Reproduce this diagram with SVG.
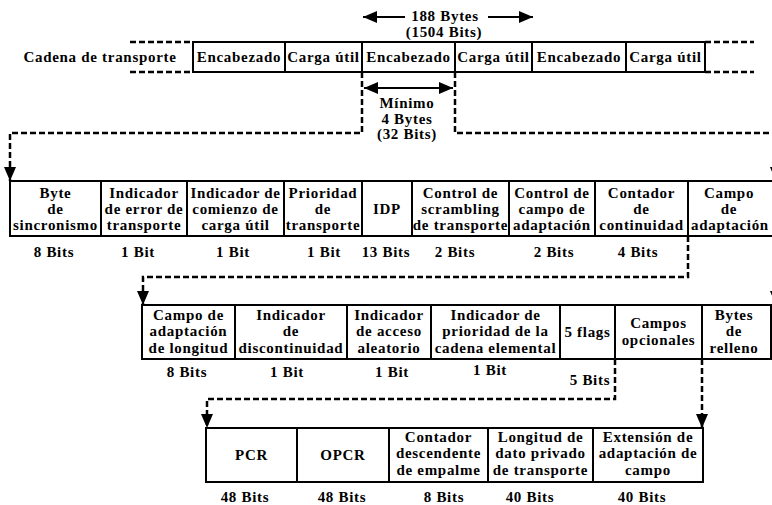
<svg xmlns="http://www.w3.org/2000/svg" width="772" height="505" viewBox="0 0 772 505">
  <style>
    .bg { fill: #ffffff; }
    .box { fill: #ffffff; stroke: #000000; stroke-width: 2; }
    .t { font-family: "Liberation Serif", "Times New Roman", serif; font-weight: bold; font-size: 15px; text-anchor: middle; letter-spacing: 0.7px; fill: #000000; }
    .dash { fill: none; stroke: #000000; stroke-width: 2.5; stroke-dasharray: 6 3; }
    .solid { fill: none; stroke: #000000; stroke-width: 2; }
  </style>
  <defs>
    <marker id="arrow" markerUnits="userSpaceOnUse" markerWidth="14" markerHeight="12" viewBox="0 0 14 12" refX="14" refY="6" orient="auto-start-reverse">
      <path d="M0,0 L14,6 L0,12 Z" fill="#000000"/>
    </marker>
  </defs>

  <rect class="bg" x="0" y="0" width="772" height="505"/>

  <!-- packet size annotation -->
  <g id="packet-size">
    <path class="solid" d="M405,17 H363" marker-end="url(#arrow)"/>
    <path class="solid" d="M488,17 H533" marker-end="url(#arrow)"/>
    <text class="t" x="445" y="21">188 Bytes</text>
    <text class="t" x="444" y="37">(1504 Bits)</text>
  </g>

  <!-- transport stream -->
  <g id="transport-stream">
    <text class="t" x="100" y="62">Cadena de transporte</text>
    <path class="dash" d="M130,42 H193 M130,72 H193 M705,42 H754 M705,72 H754"/>
    <rect class="box" x="193" y="42" width="92" height="30"/>
    <rect class="box" x="285" y="42" width="77" height="30"/>
    <rect class="box" x="362" y="42" width="93" height="30"/>
    <rect class="box" x="455" y="42" width="77" height="30"/>
    <rect class="box" x="532" y="42" width="94" height="30"/>
    <rect class="box" x="626" y="42" width="79" height="30"/>
    <text class="t" x="239" y="62">Encabezado</text>
    <text class="t" x="323.5" y="62">Carga útil</text>
    <text class="t" x="408.5" y="62">Encabezado</text>
    <text class="t" x="493.5" y="62">Carga útil</text>
    <text class="t" x="579" y="62">Encabezado</text>
    <text class="t" x="665.5" y="62">Carga útil</text>
  </g>

  <!-- minimum header size annotation -->
  <g id="header-size">
    <path class="solid" d="M364,88 H453" marker-start="url(#arrow)" marker-end="url(#arrow)"/>
    <text class="t" x="407" y="108">Mínimo</text>
    <text class="t" x="407" y="124">4 Bytes</text>
    <text class="t" x="407" y="139">(32 Bits)</text>
  </g>

  <!-- header fields -->
  <g id="header">
    <rect class="box" x="10" y="181" width="91" height="55"/>
    <rect class="box" x="101" y="181" width="86" height="55"/>
    <rect class="box" x="187" y="181" width="97" height="55"/>
    <rect class="box" x="284" y="181" width="78" height="55"/>
    <rect class="box" x="362" y="181" width="50" height="55"/>
    <rect class="box" x="412" y="181" width="97" height="55"/>
    <rect class="box" x="509" y="181" width="86" height="55"/>
    <rect class="box" x="595" y="181" width="93" height="55"/>
    <rect class="box" x="688" y="181" width="90" height="55"/>
  </g>
  <g id="sync-byte">
    <text class="t" x="55.5" y="198">Byte</text>
    <text class="t" x="55.5" y="214">de</text>
    <text class="t" x="55.5" y="230">sincronismo</text>
    <text class="t" x="54" y="257">8 Bits</text>
  </g>
  <g id="transport-error">
    <text class="t" x="144" y="198">Indicador</text>
    <text class="t" x="144" y="214">de error de</text>
    <text class="t" x="144" y="230">transporte</text>
    <text class="t" x="138" y="257">1 Bit</text>
  </g>
  <g id="payload-start">
    <text class="t" x="235.5" y="198">Indicador de</text>
    <text class="t" x="235.5" y="214">comienzo de</text>
    <text class="t" x="235.5" y="230">carga útil</text>
    <text class="t" x="233" y="257">1 Bit</text>
  </g>
  <g id="transport-priority">
    <text class="t" x="323" y="198">Prioridad</text>
    <text class="t" x="323" y="214">de</text>
    <text class="t" x="323" y="230">transporte</text>
    <text class="t" x="324" y="257">1 Bit</text>
  </g>
  <g id="pid">
    <text class="t" x="387" y="214">IDP</text>
    <text class="t" x="386" y="257">13 Bits</text>
  </g>
  <g id="scrambling-control">
    <text class="t" x="460.5" y="198">Control de</text>
    <text class="t" x="460.5" y="214">scrambling</text>
    <text class="t" x="460.5" y="230">de transporte</text>
    <text class="t" x="455" y="257">2 Bits</text>
  </g>
  <g id="adaptation-control">
    <text class="t" x="552" y="198">Control de</text>
    <text class="t" x="552" y="214">campo de</text>
    <text class="t" x="552" y="230">adaptación</text>
    <text class="t" x="554" y="257">2 Bits</text>
  </g>
  <g id="continuity-counter">
    <text class="t" x="641.5" y="198">Contador</text>
    <text class="t" x="641.5" y="214">de</text>
    <text class="t" x="641.5" y="230">continuidad</text>
    <text class="t" x="638" y="257">4 Bits</text>
  </g>
  <g id="adaptation-field">
    <text class="t" x="729" y="198">Campo</text>
    <text class="t" x="729" y="214">de</text>
    <text class="t" x="730" y="230">adaptación</text>
  </g>

  <!-- adaptation field -->
  <g id="adaptation">
    <rect class="box" x="142" y="305" width="93" height="54"/>
    <rect class="box" x="235" y="305" width="112" height="54"/>
    <rect class="box" x="347" y="305" width="84" height="54"/>
    <rect class="box" x="431" y="305" width="129" height="54"/>
    <rect class="box" x="560" y="305" width="55" height="54"/>
    <rect class="box" x="615" y="305" width="87" height="54"/>
    <rect class="box" x="702" y="305" width="69" height="54"/>
  </g>
  <g id="adaptation-length">
    <text class="t" x="188.5" y="320">Campo de</text>
    <text class="t" x="188.5" y="336">adaptación</text>
    <text class="t" x="188.5" y="353">de longitud</text>
    <text class="t" x="187" y="377">8 Bits</text>
  </g>
  <g id="discontinuity">
    <text class="t" x="291" y="320">Indicador</text>
    <text class="t" x="291" y="336">de</text>
    <text class="t" x="291" y="353">discontinuidad</text>
    <text class="t" x="287" y="377">1 Bit</text>
  </g>
  <g id="random-access">
    <text class="t" x="389" y="320">Indicador</text>
    <text class="t" x="389" y="336">de acceso</text>
    <text class="t" x="389" y="353">aleatorio</text>
    <text class="t" x="392" y="377">1 Bit</text>
  </g>
  <g id="es-priority">
    <text class="t" x="495.5" y="320">Indicador de</text>
    <text class="t" x="495.5" y="336">prioridad de la</text>
    <text class="t" x="495.5" y="353">cadena elemental</text>
    <text class="t" x="490" y="375">1 Bit</text>
  </g>
  <g id="flags">
    <text class="t" x="587.5" y="337">5 flags</text>
    <text class="t" x="590" y="385">5 Bits</text>
  </g>
  <g id="optional-fields">
    <text class="t" x="658.5" y="328">Campos</text>
    <text class="t" x="658.5" y="345">opcionales</text>
  </g>
  <g id="stuffing">
    <text class="t" x="734" y="320">Bytes</text>
    <text class="t" x="734" y="336">de</text>
    <text class="t" x="734" y="353">relleno</text>
  </g>

  <!-- optional fields -->
  <g id="optional">
    <rect class="box" x="206" y="428" width="91" height="54"/>
    <rect class="box" x="297" y="428" width="92" height="54"/>
    <rect class="box" x="389" y="428" width="99" height="54"/>
    <rect class="box" x="488" y="428" width="105" height="54"/>
    <rect class="box" x="593" y="428" width="110" height="54"/>
  </g>
  <g id="pcr">
    <text class="t" x="251.5" y="460">PCR</text>
    <text class="t" x="245" y="502">48 Bits</text>
  </g>
  <g id="opcr">
    <text class="t" x="343" y="460">OPCR</text>
    <text class="t" x="342" y="502">48 Bits</text>
  </g>
  <g id="splice-countdown">
    <text class="t" x="438.5" y="442">Contador</text>
    <text class="t" x="438.5" y="458">descendente</text>
    <text class="t" x="438.5" y="475">de empalme</text>
    <text class="t" x="444" y="502">8 Bits</text>
  </g>
  <g id="private-data-length">
    <text class="t" x="540.5" y="442">Longitud de</text>
    <text class="t" x="540.5" y="458">dato privado</text>
    <text class="t" x="540.5" y="475">de transporte</text>
    <text class="t" x="530" y="502">40 Bits</text>
  </g>
  <g id="adaptation-extension">
    <text class="t" x="648" y="442">Extensión de</text>
    <text class="t" x="648" y="458">adaptación de</text>
    <text class="t" x="648" y="475">campo</text>
    <text class="t" x="642" y="502">40 Bits</text>
  </g>

  <!-- expansion connectors -->
  <g id="connectors">
    <path class="dash" d="M362,72 V133 H10 V181" marker-end="url(#arrow)"/>
    <path class="dash" d="M455,72 V133 H776 V181" marker-end="url(#arrow)"/>
    <path class="dash" d="M688,236 V277 H143 V305" marker-end="url(#arrow)"/>
    <path class="dash" d="M776,236 V305" marker-end="url(#arrow)"/>
    <path class="dash" d="M615,359 V399 H207 V428" marker-end="url(#arrow)"/>
    <path class="dash" d="M702,359 V428" marker-end="url(#arrow)"/>
  </g>
</svg>
